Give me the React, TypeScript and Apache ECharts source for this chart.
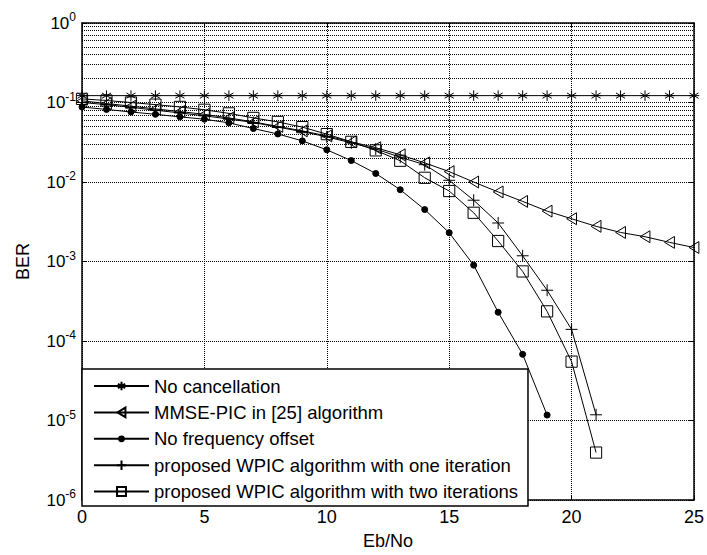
import React, { useEffect, useRef } from "react";
import * as echarts from "echarts";

const EBNO = [0, 1, 2, 3, 4, 5, 6, 7, 8, 9, 10, 11, 12, 13, 14, 15, 16, 17, 18, 19, 20, 21, 22, 23, 24, 25];

const NO_CANCEL = [0.122, 0.122, 0.122, 0.122, 0.122, 0.122, 0.122, 0.122, 0.122, 0.122, 0.122, 0.122, 0.122, 0.122, 0.122, 0.122, 0.122, 0.122, 0.122, 0.122, 0.122, 0.122, 0.122, 0.122, 0.122, 0.122];
const MMSE_PIC = [0.105, 0.097, 0.09, 0.083, 0.077, 0.071, 0.064, 0.057, 0.05, 0.044, 0.038, 0.032, 0.027, 0.022, 0.0174, 0.0135, 0.01, 0.0075, 0.0057, 0.0043, 0.00345, 0.00277, 0.00232, 0.00205, 0.00174, 0.0015];
const NO_FREQ_OFFSET = [0.0877, 0.0818, 0.076, 0.071, 0.066, 0.0616, 0.0555, 0.047, 0.0402, 0.0329, 0.0254, 0.0186, 0.0128, 0.008, 0.0045, 0.0023, 0.0009, 0.00023, 0.000068, 0.0000117];
const WPIC_ONE = [0.1, 0.094, 0.087, 0.08, 0.074, 0.068, 0.062, 0.056, 0.049, 0.043, 0.037, 0.031, 0.026, 0.0205, 0.0165, 0.0105, 0.0059, 0.00305, 0.00118, 0.000435, 0.00014, 0.0000118];
const WPIC_TWO = [0.111, 0.106, 0.1, 0.094, 0.088, 0.081, 0.073, 0.064, 0.057, 0.049, 0.04, 0.032, 0.025, 0.0185, 0.0113, 0.0077, 0.0041, 0.00181, 0.00075, 0.000236, 0.000055, 0.00000395];

const SERIES_NAMES = [
  "No cancellation",
  "MMSE-PIC in [25] algorithm",
  "No frequency offset",
  "proposed WPIC algorithm with one iteration",
  "proposed WPIC algorithm with two iterations",
];

const MINOR_MULT = [2, 3, 4, 5, 6, 7, 8, 9];
const DECADES = [-6, -5, -4, -3, -2, -1];

// All marker paths live in a 20x20 box (invisible corner moves keep the box fixed)
const BOX = "M0,0 M20,20 ";
const STAR = "path://" + BOX + "M10,2.5 L10,17.5 M3.5,6.2 L16.5,13.8 M3.5,13.8 L16.5,6.2 M2.5,10 L17.5,10";
const PLUS = "path://" + BOX + "M10,1.5 L10,18.5 M1.5,10 L18.5,10";
const TRI_LEFT = "path://" + BOX + "M3,10 L17,1.5 L17,18.5 Z";
const SQUARE = "path://" + BOX + "M2,2 L18,2 L18,18 L2,18 Z";
const DOT = "path://" + BOX + "M14.3,10 A4.3,4.3 0 1 1 5.7,10 A4.3,4.3 0 1 1 14.3,10 Z";

const toPairs = (vals: number[]) => vals.map((v, i) => [EBNO[i], v]);

export default function App() {
  const ref = useRef<HTMLDivElement>(null);
  useEffect(() => {
    if (!ref.current) return;
    const chart = echarts.init(ref.current, undefined, { renderer: "svg" });
    const font = "Liberation Sans, Arial, sans-serif";
    const lineStyle = { color: "#000", width: 1 };
    const SYM = 14;
    const base = {
      type: "line" as const,
      clip: false,
      lineStyle,
      symbolSize: SYM,
      itemStyle: { color: "none", borderColor: "#000", borderWidth: 1 },
      emphasis: { disabled: true },
      z: 3,
    };
    const gridDots = { color: "#000", type: [1, 1] as number[], width: 1 };
    const minorLines: any[] = [];
    DECADES.forEach((d) => {
      MINOR_MULT.forEach((m) => {
        minorLines.push({ yAxis: m * Math.pow(10, d) });
      });
    });
    const supLabel = (v: number) => {
      const e = Math.round(Math.log10(v));
      return "{b|10}{s|" + e + "}";
    };
    chart.setOption({
      animation: false,
      backgroundColor: "#fff",
      textStyle: { fontFamily: font },
      grid: { left: 82, right: 9, top: 23, bottom: 48, containLabel: false },
      xAxis: [
        {
          type: "value",
          min: 0,
          max: 25,
          interval: 5,
          name: "Eb/No",
          nameLocation: "middle",
          nameGap: 32,
          nameTextStyle: { fontSize: 18, color: "#000", fontFamily: font },
          axisLine: { show: true, onZero: false, lineStyle: { color: "#000", width: 1.5 } },
          axisTick: { show: true, inside: true, length: 5, lineStyle: { color: "#000" } },
          axisLabel: { fontSize: 18, color: "#000", margin: 8, fontFamily: font },
          splitLine: { show: true, lineStyle: gridDots },
        },
        {
          type: "value",
          min: 0,
          max: 25,
          interval: 5,
          position: "top",
          axisLine: { show: true, onZero: false, lineStyle: { color: "#000", width: 1.5 } },
          axisTick: { show: true, inside: true, length: 5, lineStyle: { color: "#000" } },
          axisLabel: { show: false },
          splitLine: { show: false },
        },
      ],
      yAxis: [
        {
          type: "log",
          min: 1e-6,
          max: 1,
          logBase: 10,
          name: "BER",
          nameLocation: "middle",
          nameGap: 50,
          nameRotate: 90,
          nameTextStyle: { fontSize: 18, color: "#000", fontFamily: font },
          axisLine: { show: true, onZero: false, lineStyle: { color: "#000", width: 1.5 } },
          axisTick: { show: true, inside: true, length: 5, lineStyle: { color: "#000" } },
          axisLabel: {
            color: "#000",
            margin: 6,
            formatter: supLabel,
            rich: {
              b: { fontSize: 17, color: "#000", fontFamily: font },
              s: { fontSize: 12, color: "#000", fontFamily: font, padding: [0, 0, 12, 0] },
            },
          },
          splitLine: { show: true, lineStyle: gridDots },
        },
        {
          type: "log",
          min: 1e-6,
          max: 1,
          logBase: 10,
          position: "right",
          axisLine: { show: true, onZero: false, lineStyle: { color: "#000", width: 1.5 } },
          axisTick: { show: true, inside: true, length: 5, lineStyle: { color: "#000" } },
          axisLabel: { show: false },
          splitLine: { show: false },
        },
      ],
      legend: {
        left: 82,
        top: 369,
        orient: "vertical",
        backgroundColor: "#fff",
        borderColor: "#000",
        borderWidth: 1.5,
        padding: [7.5, 10, 5, 11],
        itemWidth: 55,
        itemHeight: 14,
        itemGap: 7.4,
        textStyle: { fontSize: 18.5, lineHeight: 18, color: "#000", fontFamily: font },
        data: SERIES_NAMES,
      },
      series: [
        {
          ...base,
          name: "__minor",
          data: [],
          markLine: {
            silent: true,
            symbol: "none",
            label: { show: false },
            lineStyle: gridDots,
            data: minorLines,
          },
          z: 1,
        },
        { ...base, name: SERIES_NAMES[0], data: toPairs(NO_CANCEL), symbol: STAR },
        { ...base, name: SERIES_NAMES[1], data: toPairs(MMSE_PIC), symbol: TRI_LEFT },
        {
          ...base,
          name: SERIES_NAMES[2],
          data: toPairs(NO_FREQ_OFFSET),
          symbol: DOT,
          itemStyle: { color: "#000", borderColor: "#000", borderWidth: 1 },
        },
        { ...base, name: SERIES_NAMES[3], data: toPairs(WPIC_ONE), symbol: PLUS },
        { ...base, name: SERIES_NAMES[4], data: toPairs(WPIC_TWO), symbol: SQUARE },
      ],
    });
    return () => chart.dispose();
  }, []);
  return <div ref={ref} style={{ width: 707, height: 555, position: "absolute", left: 0, top: 0 }} />;
}
